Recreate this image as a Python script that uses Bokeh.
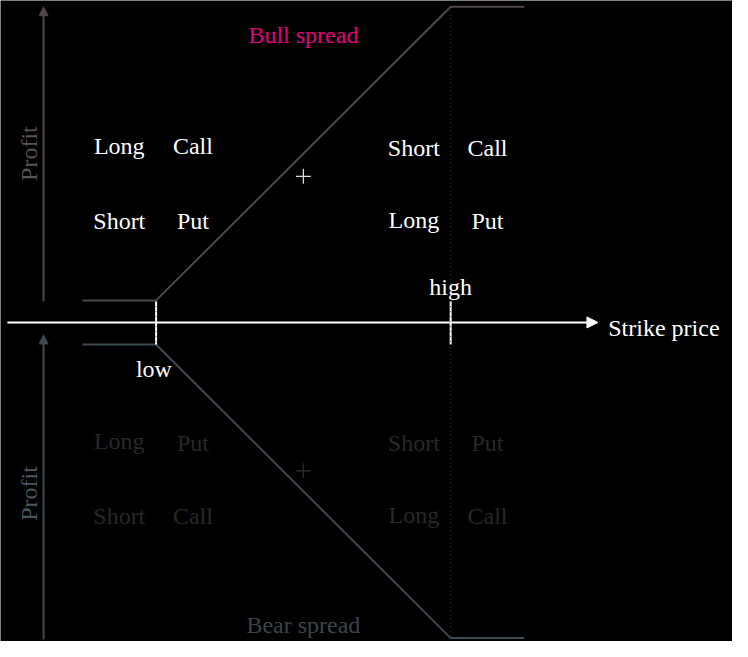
import re
import math
from bokeh.plotting import figure
from bokeh.models import Range1d, Arrow, NormalHead, ColumnDataSource
from bokeh.embed import file_html
from bokeh.resources import INLINE
from bokeh.core.properties import value

FONT = "Liberation Serif"

# ---- data (conceptual units: strike on x, profit on y) ----
strike_low = 2.0
strike_high = 6.0
strike_labels = ["low", "high"]

payoff_x = [1.0, 2.0, 6.0, 7.0]
bull_profit = [0.3, 0.3, 4.3, 4.3]
bear_profit = [-0.3, -0.3, -4.3, -4.3]

axis_x_start, axis_x_end = -0.02, 8.0

# legs of each spread (left pair of columns: below low strike, right pair: above high strike)
col_pos = [1.5, 2.5, 5.5, 6.5]
bull_words = ["Long", "Call", "Short", "Put", "Short", "Call", "Long", "Put"]
bear_words = ["Long", "Put", "Short", "Call", "Short", "Put", "Long", "Call"]

W, H = 732, 641
p = figure(width=W, height=H, output_backend="svg", toolbar_location=None,
           x_range=Range1d(-0.113, 9.827), y_range=Range1d(-4.346, 4.385),
           x_axis_type=None, y_axis_type=None, min_border=0,
           background_fill_color="#000000", border_fill_color="#000000",
           outline_line_color=None)
p.grid.visible = False

BULL_C = "#4f4749"
BEAR_C = "#3e4a52"

# vertical dotted line at high strike
p.line([strike_high, strike_high], [4.3, -4.3], line_color="#3a3a3a",
       line_width=1, line_dash="1 3")

# payoff lines
p.line(payoff_x, bull_profit, line_color=BULL_C, line_width=2)
p.line(payoff_x, bear_profit, line_color=BEAR_C, line_width=2)

# strike axis arrow
p.add_layout(Arrow(x_start=axis_x_start, y_start=0, x_end=axis_x_end, y_end=0,
                   line_color="#ffffff", line_width=2,
                   end=NormalHead(size=11, fill_color="#ffffff", line_color="#ffffff")))

# profit arrows
p.add_layout(Arrow(x_start=0.472, y_start=0.29, x_end=0.472, y_end=4.3,
                   line_color=BULL_C, line_width=2,
                   end=NormalHead(size=9, fill_color=BULL_C, line_color=BULL_C)))
p.add_layout(Arrow(x_start=0.472, y_start=-4.32, x_end=0.472, y_end=-0.17,
                   line_color=BEAR_C, line_width=2,
                   end=NormalHead(size=9, fill_color=BEAR_C, line_color=BEAR_C)))

# strike ticks
for s in [strike_low, strike_high]:
    p.line([s, s], [0.29, -0.3], line_color="#ffffff", line_width=2)
    p.line([s, s], [0.29, -0.3], line_color="#555555", line_width=1, line_dash="1 4")

def txt(x, y, t, color, size="24px", align="center", baseline="alphabetic", angle=0.0):
    p.text(x=[x], y=[y], text=[t], text_color=color, text_font=value(FONT),
           text_font_size=size, text_align=align, text_baseline=baseline, angle=angle)

cols_order = [col_pos[0], col_pos[1], col_pos[0], col_pos[1],
              col_pos[2], col_pos[3], col_pos[2], col_pos[3]]
rows_up = [2.40, 2.40, 1.38, 1.38, 2.38, 2.38, 1.40, 1.38]
rows_dn = [-1.62, -1.64, -2.63, -2.64, -1.64, -1.64, -2.62, -2.64]
src_up = ColumnDataSource(dict(x=cols_order, y=rows_up, t=bull_words))
src_dn = ColumnDataSource(dict(x=cols_order, y=rows_dn, t=bear_words))
p.text(x="x", y="y", text="t", source=src_up, text_color="#ffffff", text_font=value(FONT),
       text_font_size="24px", text_align="center", text_baseline="alphabetic")
p.text(x="x", y="y", text="t", source=src_dn, text_color="#282828", text_font=value(FONT),
       text_font_size="24px", text_align="center", text_baseline="alphabetic")

# "+" markers on the sloped segments
p.scatter([4.0], [1.99], marker="cross", size=15, line_color="#d8d8d8", line_width=1.3)
p.scatter([4.0], [-2.02], marker="cross", size=15, line_color="#2a2a2a", line_width=1.3)

txt(4.0, 3.92, "Bull spread", "#e5007d")
txt(4.0, -4.12, "Bear spread", "#3a444b")

txt(strike_high, 0.478, strike_labels[1], "#ffffff")
txt(1.97, -0.638, strike_labels[0], "#ffffff")

txt(8.14, -0.08, "Strike price", "#ffffff", align="left")

txt(0.27, 2.30, "Profit", "#5b5254", baseline="middle", angle=math.pi / 2)
txt(0.27, -2.33, "Profit", "#4a5760", baseline="middle", angle=math.pi / 2)

html = file_html(p, INLINE)
html = re.sub(r"<body[^>]*>", '<body style="margin:8px;background-color:#000000;">', html, count=1)
open("out.html", "w").write(html)
